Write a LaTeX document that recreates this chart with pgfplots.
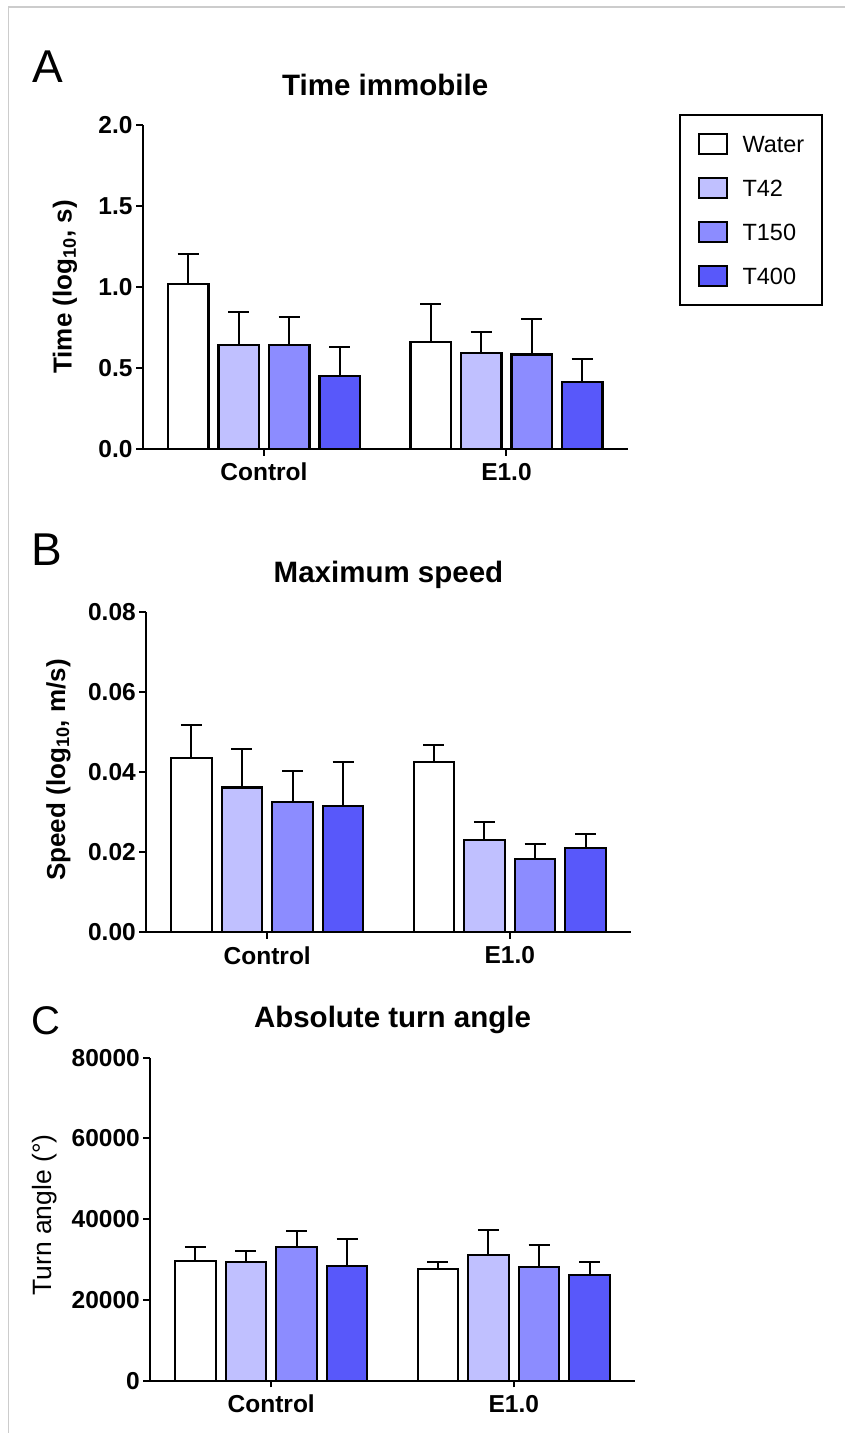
\documentclass[border=0pt]{standalone}
\usepackage{fontspec}
\setmainfont{Liberation Sans}
\usepackage{pgfplots}
\pgfplotsset{compat=1.18}

\definecolor{cwater}{RGB}{255,255,255}
\definecolor{c42}{RGB}{192,192,255}
\definecolor{c150}{RGB}{140,140,255}
\definecolor{c400}{RGB}{88,88,250}

\pgfplotsset{
  panel/.style={
    scale only axis, width=485pt,
    xmin=-0.5, xmax=1.5, ymin=0,
    axis x line*=bottom, axis y line*=left,
    axis line style={line width=2pt},
    tick align=outside, major tick length=6.7pt,
    tick style={line width=2pt, black},
    xtick={0,1}, xticklabels={Control,E1.0},
    ticklabel style={font=\fontsize{24.5}{27}\selectfont\bfseries},
    xticklabel style={yshift=-4pt},
    scaled y ticks=false,
    ybar, bar width=40.5pt, bar shift=0pt,
    clip=false,
    error bars/y dir=plus, error bars/y explicit,
    error bars/error bar style={line width=2pt, black},
    error bars/error mark options={rotate=90, line width=2pt, black, mark size=10.5pt},
  },
  bars/.style={draw=black, line width=2.2pt, fill=#1},
}

\begin{document}
\begin{tikzpicture}
\useasboundingbox (0pt,0pt) rectangle (845pt,-1433pt);
\draw[black!20, line width=1.5pt] (8.5pt,-1433pt) -- (8.5pt,-7pt) -- (845pt,-7pt);

% ---------- A ----------
\node[anchor=base west, inner sep=0pt, font=\fontsize{46}{46}\selectfont] at (32pt,-82.7pt) {A};
\node[anchor=base, inner sep=0pt, font=\fontsize{29.5}{30}\selectfont\bfseries] at (385.2pt,-95pt) {Time immobile};
\node[rotate=90, anchor=base, inner sep=0pt, font=\fontsize{26}{28}\selectfont\bfseries] at (71.7pt,-287pt) {Time (log\textsubscript{10}, s)};
\begin{axis}[panel, at={(142.7pt,-449pt)}, anchor=south west, height=324pt,
  ymax=2, ytick={0,0.5,1,1.5,2}, yticklabels={0.0,0.5,1.0,1.5,2.0},
  legend style={at={(1.1058,1.033)}, anchor=north west, draw=black, line width=2pt,
    font=\fontsize{23.5}{26}\selectfont, inner xsep=18pt, inner ysep=18pt,
    row sep=22pt, column sep=14.5pt,
    nodes={inner sep=0pt, text height=16.8pt, text depth=0pt}},
  legend cell align=left,
  legend image code/.code={\draw[#1, line width=2pt] (0pt,-10pt) rectangle (28pt,10pt);},
]
\addplot[bars=cwater] coordinates {(-0.3125,1.017) +- (0,0.189) (0.6875,0.662) +- (0,0.233)};
\addplot[bars=c42]    coordinates {(-0.1042,0.640) +- (0,0.204) (0.8958,0.593) +- (0,0.129)};
\addplot[bars=c150]   coordinates {(0.1042,0.642) +- (0,0.171) (1.1042,0.584) +- (0,0.216)};
\addplot[bars=c400]   coordinates {(0.3125,0.452) +- (0,0.180) (1.3125,0.415) +- (0,0.139)};
\legend{Water,T42,T150,T400}
\end{axis}

% ---------- B ----------
\node[anchor=base west, inner sep=0pt, font=\fontsize{46}{46}\selectfont] at (31.5pt,-565pt) {B};
\node[anchor=base, inner sep=0pt, font=\fontsize{29.5}{30}\selectfont\bfseries] at (388.5pt,-582pt) {Maximum speed};
\node[rotate=90, anchor=base, inner sep=0pt, font=\fontsize{26}{28}\selectfont\bfseries] at (65pt,-770pt) {Speed (log\textsubscript{10}, m/s)};
\begin{axis}[panel, at={(146pt,-932pt)}, anchor=south west, height=320.3pt,
  ymax=0.08, ytick={0,0.02,0.04,0.06,0.08}, yticklabels={0.00,0.02,0.04,0.06,0.08}]
\addplot[bars=cwater] coordinates {(-0.3125,0.0435) +- (0,0.0081) (0.6875,0.0424) +- (0,0.0042)};
\addplot[bars=c42]    coordinates {(-0.1042,0.0361) +- (0,0.0095) (0.8958,0.0230) +- (0,0.0045)};
\addplot[bars=c150]   coordinates {(0.1042,0.0324) +- (0,0.0079) (1.1042,0.0183) +- (0,0.0037)};
\addplot[bars=c400]   coordinates {(0.3125,0.0314) +- (0,0.0110) (1.3125,0.0210) +- (0,0.0036)};
\end{axis}

% ---------- C ----------
\node[anchor=base west, inner sep=0pt, font=\fontsize{40}{40}\selectfont] at (31.7pt,-1034pt) {C};
\node[anchor=base, inner sep=0pt, font=\fontsize{29.5}{30}\selectfont\bfseries] at (392.5pt,-1027pt) {Absolute turn angle};
\node[rotate=90, anchor=base, inner sep=0pt, font=\fontsize{26.5}{28}\selectfont] at (51.7pt,-1215pt) {Turn angle (°)};
\begin{axis}[panel, at={(150pt,-1380.7pt)}, anchor=south west, height=323pt,
  ymax=80000, ytick={0,20000,40000,60000,80000}, yticklabels={0,20000,40000,60000,80000}]
\addplot[bars=cwater] coordinates {(-0.3125,29721) +- (0,3394) (0.6875,27591) +- (0,1883)};
\addplot[bars=c42]    coordinates {(-0.1042,29474) +- (0,2724) (0.8958,31207) +- (0,6043)};
\addplot[bars=c150]   coordinates {(0.1042,33115) +- (0,4037) (1.1042,28085) +- (0,5525)};
\addplot[bars=c400]   coordinates {(0.3125,28333) +- (0,6687) (1.3125,26105) +- (0,3220)};
\end{axis}
\end{tikzpicture}
\end{document}
